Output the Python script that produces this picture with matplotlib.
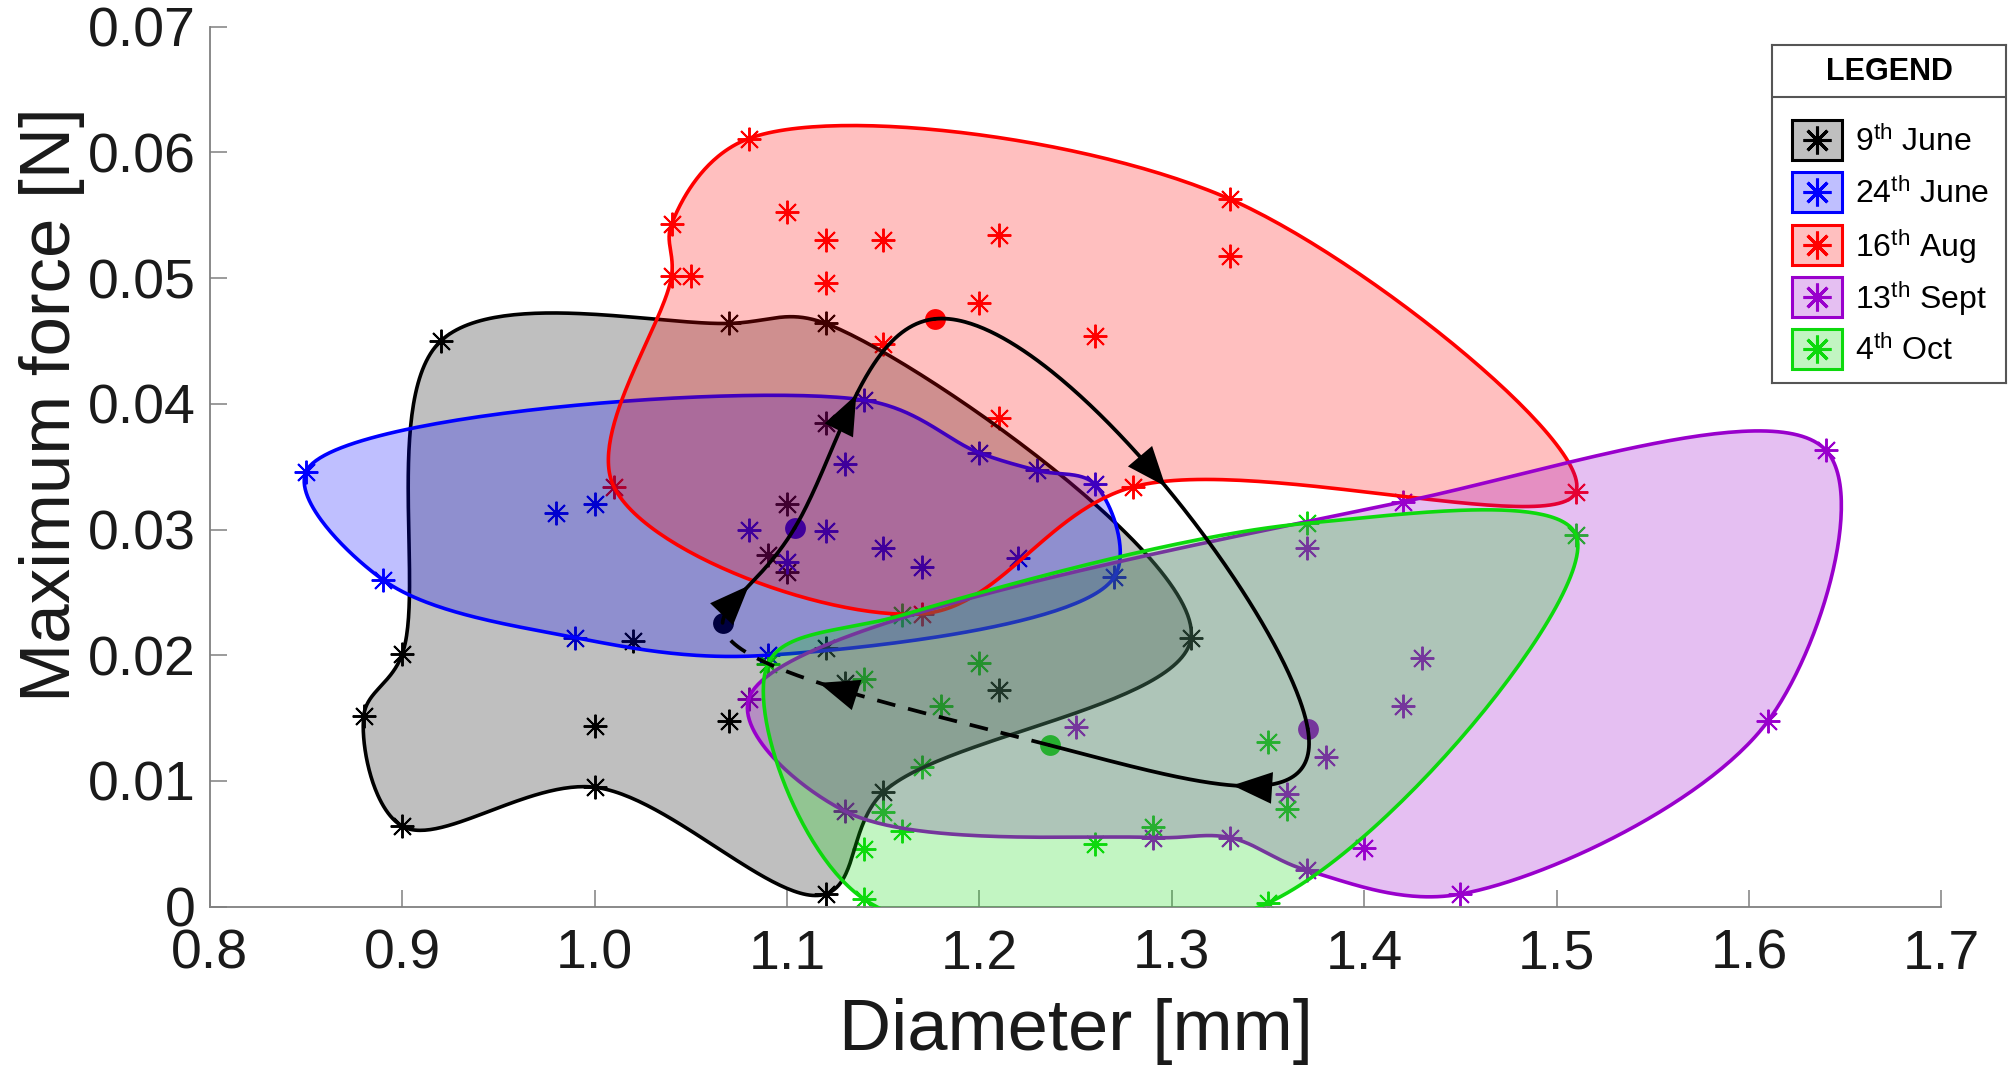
import numpy as np
import matplotlib
matplotlib.use("Agg")
import matplotlib.pyplot as plt
from matplotlib.patches import Rectangle, FancyArrowPatch

plt.rcParams['font.family'] = ['Liberation Sans', 'DejaVu Sans']
plt.rcParams['mathtext.fontset'] = 'custom'
plt.rcParams['mathtext.rm'] = 'Liberation Sans'
plt.rcParams['mathtext.it'] = 'Liberation Sans:italic'
plt.rcParams['mathtext.bf'] = 'Liberation Sans:bold'

# ---------------- data ----------------
labels = ["9$^{\\mathrm{th}}$ June", "24$^{\\mathrm{th}}$ June", "16$^{\\mathrm{th}}$ Aug",
          "13$^{\\mathrm{th}}$ Sept", "4$^{\\mathrm{th}}$ Oct"]
colors = [(0, 0, 0), (0, 0, 1), (1, 0, 0), (0.6, 0.0, 0.8), (0.05, 0.85, 0.05)]

jun9_x = [0.92, 1.07, 1.12, 1.12, 1.10, 1.09, 1.10, 1.02, 0.90, 0.88,
          0.90, 1.00, 1.00, 1.07, 1.12, 1.12, 1.13, 1.21, 1.31, 1.15]
jun9_y = [0.0450, 0.0464, 0.0464, 0.0385, 0.0320, 0.0280, 0.0266, 0.0211, 0.0201, 0.0152,
          0.0064, 0.0144, 0.0095, 0.0148, 0.0010, 0.0206, 0.0178, 0.0172, 0.0214, 0.0091]
jun9_hull = [0, 1, 2, 18, 19, 14, 12, 10, 9, 8]

jun24_x = [0.85, 0.98, 1.00, 0.89, 0.99, 1.09, 1.14, 1.13, 1.08, 1.12,
           1.10, 1.15, 1.17, 1.20, 1.23, 1.26, 1.22, 1.27]
jun24_y = [0.0346, 0.0313, 0.0320, 0.0260, 0.0214, 0.0200, 0.0403, 0.0352, 0.0300, 0.0299,
           0.0274, 0.0285, 0.0270, 0.0361, 0.0347, 0.0336, 0.0277, 0.0262]
jun24_hull = [0, 6, 13, 14, 15, 17, 5, 4, 3]

aug16_x = [1.08, 1.10, 1.04, 1.12, 1.15, 1.21, 1.04, 1.05, 1.12, 1.33,
           1.33, 1.20, 1.26, 1.15, 1.21, 1.28, 1.01, 1.51, 1.17]
aug16_y = [0.0611, 0.0553, 0.0543, 0.0530, 0.0530, 0.0534, 0.0502, 0.0502, 0.0496, 0.0563,
           0.0518, 0.0480, 0.0454, 0.0448, 0.0389, 0.0334, 0.0334, 0.0330, 0.0233]
aug16_hull = [0, 9, 17, 15, 18, 16, 6, 2]

sep13_x = [1.64, 1.61, 1.45, 1.42, 1.37, 1.43, 1.42, 1.38, 1.36, 1.40,
           1.37, 1.33, 1.25, 1.13, 1.08, 1.29]
sep13_y = [0.0363, 0.0148, 0.0010, 0.0322, 0.0285, 0.0198, 0.0160, 0.0119, 0.0090, 0.0047,
           0.0029, 0.0055, 0.0143, 0.0076, 0.0165, 0.0055]
sep13_hull = [14, 3, 0, 1, 2, 10, 11, 15, 13]

oct4_x = [1.37, 1.20, 1.14, 1.18, 1.35, 1.17, 1.36, 1.15, 1.16, 1.14,
          1.26, 1.29, 1.14, 1.35, 1.51, 1.09, 1.16]
oct4_y = [0.0305, 0.0194, 0.0181, 0.0160, 0.0131, 0.0111, 0.0078, 0.0075, 0.0060, 0.0046,
          0.0050, 0.0063, 0.0006, 0.0003, 0.0296, 0.0193, 0.0232]
oct4_hull = [15, 16, 0, 14, 13, 12]

groups_x = [jun9_x, jun24_x, aug16_x, sep13_x, oct4_x]
groups_y = [jun9_y, jun24_y, aug16_y, sep13_y, oct4_y]
hulls = [jun9_hull, jun24_hull, aug16_hull, sep13_hull, oct4_hull]

x_ticks = [0.8, 0.9, 1.0, 1.1, 1.2, 1.3, 1.4, 1.5, 1.6, 1.7]
x_ticklabels = ["0.8", "0.9", "1.0", "1.1", "1.2", "1.3", "1.4", "1.5", "1.6", "1.7"]
y_ticks = [0, 0.01, 0.02, 0.03, 0.04, 0.05, 0.06, 0.07]
y_ticklabels = ["0", "0.01", "0.02", "0.03", "0.04", "0.05", "0.06", "0.07"]


# ---------------- closed centripetal cubic spline (trajectory) ----------------
def closed_spline(px, py, n_per=80, wx=1.0, wy=1.0):
    P = np.column_stack([px, py]).astype(float)
    P = np.vstack([P, P[:1]])
    N = len(P) - 1
    D = np.diff(P, axis=0) * np.array([wx, wy])
    h = np.sqrt(np.sqrt(np.sum(D ** 2, axis=1)))
    A = np.zeros((N, N))
    for i in range(N):
        im = (i - 1) % N
        A[i, im] += h[im]
        A[i, i] += 2 * (h[im] + h[i])
        A[i, (i + 1) % N] += h[i]
    segs = [[None, None] for _ in range(N)]
    for c in range(2):
        y = P[:, c]
        slope = (y[1:] - y[:-1]) / h
        r = np.array([6 * (slope[i] - slope[(i - 1) % N]) for i in range(N)])
        M = np.linalg.solve(A, r)
        M = np.append(M, M[0])
        for i in range(N):
            s = np.linspace(0, h[i], n_per)
            a = h[i] - s
            v = (M[i] * a ** 3 / (6 * h[i]) + M[i + 1] * s ** 3 / (6 * h[i])
                 + (y[i] / h[i] - M[i] * h[i] / 6) * a
                 + (y[i + 1] / h[i] - M[i + 1] * h[i] / 6) * s)
            segs[i][c] = v
    return segs


# ---------------- closed centripetal Catmull-Rom (hulls) ----------------
def closed_catmull_rom(px, py, wx, wy, n_per=60):
    P = np.column_stack([np.asarray(px) * wx, np.asarray(py) * wy])
    N = len(P)
    out = []
    for i in range(N):
        p0, p1, p2, p3 = P[(i - 1) % N], P[i], P[(i + 1) % N], P[(i + 2) % N]
        t0 = 0.0
        t1 = t0 + np.linalg.norm(p1 - p0) ** 0.5
        t2 = t1 + np.linalg.norm(p2 - p1) ** 0.5
        t3 = t2 + np.linalg.norm(p3 - p2) ** 0.5
        t = np.linspace(t1, t2, n_per, endpoint=False)[:, None]
        a1 = (t1 - t) / (t1 - t0) * p0 + (t - t0) / (t1 - t0) * p1
        a2 = (t2 - t) / (t2 - t1) * p1 + (t - t1) / (t2 - t1) * p2
        a3 = (t3 - t) / (t3 - t2) * p2 + (t - t2) / (t3 - t2) * p3
        b1 = (t2 - t) / (t2 - t0) * a1 + (t - t0) / (t2 - t0) * a2
        b2 = (t3 - t) / (t3 - t1) * a2 + (t - t1) / (t3 - t1) * a3
        c = (t2 - t) / (t2 - t1) * b1 + (t - t1) / (t2 - t1) * b2
        out.append(c)
    C = np.vstack(out + [P[:1]])
    return C[:, 0] / wx, C[:, 1] / wy


fig = plt.figure(figsize=(20.10, 10.74), dpi=100)
ax = fig.add_axes([0.1044, 0.1558, 0.8615, 0.8193])

# screen-space weights (pixels per data unit)
WX, WY = 1731.6 / 0.9, 880.0 / 0.07

# markers first
for gx, gy, col in zip(groups_x, groups_y, colors):
    ax.plot(gx, gy, linestyle='none', marker=(8, 2, 0), markersize=17,
            markeredgewidth=1.4, color=col, zorder=2)

# centroids
cx = [float(np.mean(g)) for g in groups_x]
cy = [float(np.mean(g)) for g in groups_y]
for x0, y0, col in zip(cx, cy, colors):
    ax.plot([x0], [y0], 'o', markersize=15, color=col, markeredgewidth=0, zorder=2)

# hulls
for gx, gy, hl, col in zip(groups_x, groups_y, hulls, colors):
    hx = [gx[i] for i in hl]
    hy = [gy[i] for i in hl]
    xs, ys = closed_catmull_rom(hx, hy, WX, WY)
    ax.fill(xs, ys, facecolor=col, alpha=0.25, edgecolor='none', zorder=3)
    ax.plot(xs, ys, color=col, lw=2.6, zorder=3)

# trajectory through centroids
tsegs = closed_spline(cx, cy, n_per=200)
for k, (sx, sy) in enumerate(tsegs):
    if k < len(tsegs) - 1:
        ax.plot(sx, sy, color='k', lw=2.7, zorder=6, solid_capstyle='round')
    else:
        m = int(len(sx) * 0.93)
        ax.plot(sx[:m], sy[:m], color='k', lw=2.7, ls=(0, (5, 3.5)), zorder=6)
    j = len(sx) // 2
    arr = FancyArrowPatch((sx[j - 3], sy[j - 3]), (sx[j + 3], sy[j + 3]),
                          arrowstyle='-|>,head_length=0.95,head_width=0.38',
                          mutation_scale=30, color='k', lw=0, shrinkA=0, shrinkB=0,
                          zorder=7)
    ax.add_patch(arr)

ax.set_xlim(0.8, 1.7)
ax.set_ylim(0, 0.07)
ax.set_xticks(x_ticks)
ax.set_xticklabels(x_ticklabels)
ax.set_yticks(y_ticks)
ax.set_yticklabels(y_ticklabels)
for sp in ['top', 'right']:
    ax.spines[sp].set_visible(False)
for sp in ['left', 'bottom']:
    ax.spines[sp].set_color('#808080')
    ax.spines[sp].set_linewidth(1.3)
ax.tick_params(direction='in', length=12, width=1.1, color='#808080',
               labelsize=40, labelcolor='#1a1a1a')
ax.tick_params(axis='x', pad=16)
ax.tick_params(axis='y', pad=10)
ax.set_xlabel("Diameter [mm]", fontsize=52, color='#1a1a1a', labelpad=12)
ax.set_ylabel("Maximum force [N]", fontsize=51, color='#1a1a1a')
ax.yaxis.set_label_coords(-0.072, 0.571)

# ---------------- legend panel ----------------
L, T, R, B = 1772, 45, 2006, 383
lax = fig.add_axes([L / 2010, 1 - B / 1074, (R - L) / 2010, (B - T) / 1074])
lax.set_xlim(0, R - L)
lax.set_ylim(B - T, 0)
lax.set_xticks([])
lax.set_yticks([])
for sp in lax.spines.values():
    sp.set_color('#555555')
    sp.set_linewidth(1.5)
lax.axhline(52, color='#555555', lw=1.5)
lax.text((R - L) / 2, 27, "LEGEND", ha='center', va='center', fontsize=22,
         fontweight='bold')
for k, (lab, col) in enumerate(zip(labels, colors)):
    yc = 95 + k * 52.3
    lax.add_patch(Rectangle((20, yc - 20), 50, 40, facecolor=(*col, 0.25),
                            edgecolor=col, lw=2.2))
    lax.plot([45], [yc], marker=(8, 2, 0), markersize=20, markeredgewidth=2.2,
             color=col)
    lax.text(83, yc + 2, lab, ha='left', va='center', fontsize=23)

fig.savefig("out.png", dpi=100)
